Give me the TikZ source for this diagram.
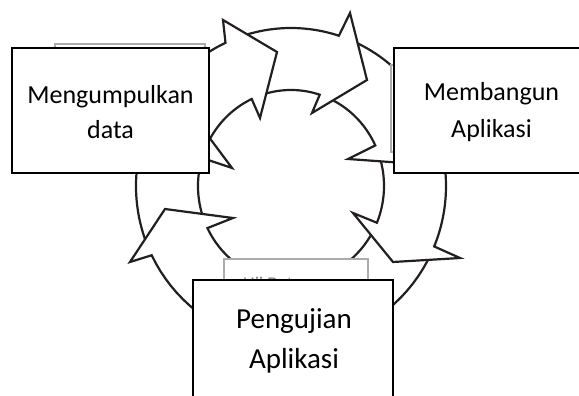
\documentclass[tikz,border=0pt]{standalone}
\usepackage{fontspec}
\setmainfont{Carlito}
\definecolor{ringc}{HTML}{231F20}
\newcommand\ringarrow[5]{%
  \draw[ring] plot[domain=#1:#2,samples=40] ({291+155*cos(\x)},{186+158*sin(\x)})
    -- #3 -- #4 -- #5 --
    plot[domain=#2:#1,samples=40] ({291+93*cos(\x)},{186+96*sin(\x)}) -- cycle;}
\begin{document}
\begin{tikzpicture}[x=1pt,y=-1pt,
  ring/.style={draw=ringc, line width=2.2pt, fill=white, line join=miter},
  box/.style={draw=black, line width=2pt, fill=white, inner sep=0pt},
  shadowbox/.style={draw=gray!65, line width=1.2pt, fill=white, inner sep=0pt},
  lbl/.style={anchor=base, inner sep=0pt, font=\fontsize{26}{30}\selectfont},
  lblbig/.style={anchor=base, inner sep=0pt, font=\fontsize{29}{34}\selectfont}]
\useasboundingbox (0,0) rectangle (579,396);
% ring of arrows (drawn so that each head lies over the next tail)
\ringarrow{158}{197}{(119,133)}{(188,109)}{(232,168)}
\ringarrow{25}{154}{(130,262)}{(165,209)}{(233,218)}
\ringarrow{340}{382.5}{(460,258)}{(393,262)}{(353,213)}
\ringarrow{293}{335}{(454,110)}{(418,164)}{(348,159)}
\ringarrow{250}{288}{(350,13)}{(367,80)}{(312,113)}
\ringarrow{203}{245}{(223,20)}{(277,52)}{(260,118)}
% faint boxes behind
\node[shadowbox, minimum width=150pt, minimum height=126pt] (s1) at (130,107) {};
\node[shadowbox, minimum width=169pt, minimum height=87pt] (s2) at (475.5,108.5) {};
\node[shadowbox, minimum width=144pt, minimum height=161pt] (s3) at (296,339.5) {};
\node[anchor=base west, inner sep=0pt, font=\fontsize{18}{20}\selectfont, text=gray] (s3t) at (243,289.5) {Uji Data};
% main boxes
\node[box, minimum width=197pt, minimum height=125pt] (m) at (110.5,110.5) {};
\node[box, minimum width=195pt, minimum height=125pt] (b) at (491.5,110.5) {};
\node[box, minimum width=200pt, minimum height=140pt] (p) at (293,350) {};
\node[lbl] (m1) at (110.5,103) {Mengumpulkan};
\node[lbl] (m2) at (110.5,139) {data};
\node[lbl] (b1) at (491.5,100) {Membangun};
\node[lbl] (b2) at (491.5,137) {Aplikasi};
\node[lblbig] (p1) at (294,328) {Pengujian};
\node[lblbig] (p2) at (294,368) {Aplikasi};
\end{tikzpicture}
\end{document}
